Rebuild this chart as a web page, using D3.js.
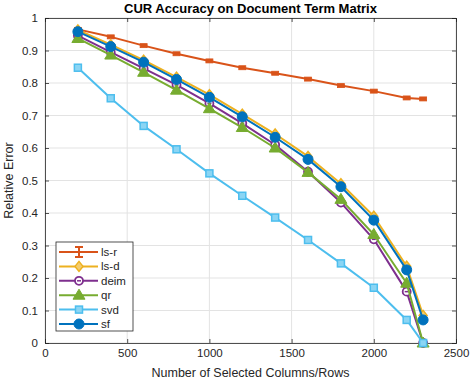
<!DOCTYPE html>
<html><head><meta charset="utf-8">
<script src="https://cdn.jsdelivr.net/npm/d3@7"></script>
<style>body{margin:0;background:#fff}svg{display:block;font-family:"Liberation Sans",Arial,sans-serif}</style>
</head><body>
<svg id="c" width="472" height="381"></svg>
<script>
const xs = [200,400,600,800,1000,1200,1400,1600,1800,2000,2200,2300];
const lsr  = [0.965,0.942,0.915,0.890,0.868,0.847,0.830,0.812,0.792,0.775,0.754,0.751];
const lsd  = [0.963,0.918,0.870,0.818,0.764,0.704,0.643,0.574,0.490,0.390,0.236,0.085];
const deim = [0.946,0.895,0.845,0.794,0.737,0.676,0.610,0.527,0.432,0.319,0.158,0.000];
const qr   = [0.937,0.886,0.833,0.778,0.721,0.663,0.600,0.525,0.442,0.334,0.184,0.000];
const svd  = [0.847,0.753,0.668,0.596,0.522,0.453,0.386,0.317,0.245,0.170,0.071,0.000];
const sf   = [0.958,0.912,0.864,0.811,0.756,0.696,0.633,0.565,0.481,0.378,0.225,0.071];
const xTicks = [0,500,1000,1500,2000,2500];
const yTicks = [0,0.1,0.2,0.3,0.4,0.5,0.6,0.7,0.8,0.9,1];
const names = ["ls-r","ls-d","deim","qr","svd","sf"];
const colors = ["#D95319","#EDB120","#7E2F8E","#77AC30","#4DBEEE","#0072BD"];
const markers = ["err","diamond","circleOpen","triangle","square","circle"];
const seriesVals = [lsr,lsd,deim,qr,svd,sf];

const svg = d3.select("#c");
const L=45, R=456, T=18, B=343;
const x = d3.scaleLinear().domain([0,2500]).range([L,R]);
const y = d3.scaleLinear().domain([0,1]).range([B,T]);

// grid
const g = svg.append("g");
g.selectAll(".gx").data(xTicks).enter().append("line")
  .attr("x1",d=>x(d)).attr("x2",d=>x(d)).attr("y1",T).attr("y2",B)
  .attr("stroke","#e3e3e3").attr("stroke-width",1);
g.selectAll(".gy").data(yTicks).enter().append("line")
  .attr("y1",d=>y(d)).attr("y2",d=>y(d)).attr("x1",L).attr("x2",R)
  .attr("stroke","#e3e3e3").attr("stroke-width",1);

// axes
const ax = [
  svg.append("g").attr("transform",`translate(0,${B})`).call(d3.axisBottom(x).tickValues(xTicks).tickSize(-4).tickPadding(6).tickFormat(d=>d)),
  svg.append("g").attr("transform",`translate(0,${T})`).call(d3.axisTop(x).tickValues(xTicks).tickSize(-4).tickFormat("")),
  svg.append("g").attr("transform",`translate(${L},0)`).call(d3.axisLeft(y).tickValues(yTicks).tickSize(-4).tickPadding(7).tickFormat(d=>String(+d.toFixed(1)))),
  svg.append("g").attr("transform",`translate(${R},0)`).call(d3.axisRight(y).tickValues(yTicks).tickSize(-4).tickFormat(""))
];
ax.forEach(a=>{
  a.select(".domain").attr("stroke","#262626").attr("stroke-width",0.8);
  a.selectAll(".tick line").attr("stroke","#262626").attr("stroke-width",0.8);
  a.selectAll(".tick text").attr("fill","#262626").attr("font-size",11.5).attr("font-family","Liberation Sans, Arial, sans-serif");
});

function lighten(c){ return d3.interpolateRgb(c,"#fff")(0.35); }

function drawMarker(sel, type, color, px, py){
  if(type==="err"){
    sel.append("rect").attr("x",px-3.5).attr("y",py-2).attr("width",7).attr("height",4)
      .attr("fill",color).attr("stroke",color).attr("stroke-width",0.8);
  } else if(type==="diamond"){
    sel.append("path").attr("d",`M${px},${py-5}L${px+4},${py}L${px},${py+5}L${px-4},${py}Z`)
      .attr("fill",lighten(color)).attr("stroke",color).attr("stroke-width",1.5);
  } else if(type==="circleOpen"){
    sel.append("circle").attr("cx",px).attr("cy",py).attr("r",4).attr("fill","#fff").attr("stroke",color).attr("stroke-width",1.8);
    sel.append("line").attr("x1",px-2).attr("x2",px+2).attr("y1",py).attr("y2",py).attr("stroke",color).attr("stroke-width",1.5);
  } else if(type==="triangle"){
    sel.append("path").attr("d",`M${px},${py-6}L${px+6},${py+4}L${px-6},${py+4}Z`)
      .attr("fill",color).attr("stroke",color).attr("stroke-width",1);
  } else if(type==="square"){
    sel.append("rect").attr("x",px-3.5).attr("y",py-3.5).attr("width",7).attr("height",7)
      .attr("fill",lighten(color)).attr("stroke",color).attr("stroke-width",1.5);
  } else if(type==="circle"){
    sel.append("circle").attr("cx",px).attr("cy",py).attr("r",5).attr("fill",color).attr("stroke",color);
  }
}

const line = d3.line().x((d,i)=>x(xs[i])).y(d=>y(d));
const plot = svg.append("g");
seriesVals.forEach((vals,k)=>{
  const sg = plot.append("g");
  sg.append("path").datum(vals).attr("d",line).attr("fill","none")
    .attr("stroke",colors[k]).attr("stroke-width",2).attr("stroke-linejoin","round");
  vals.forEach((v,i)=>drawMarker(sg, markers[k], colors[k], x(xs[i]), y(v)));
});

// title & labels
svg.append("text").attr("x",(L+R)/2).attr("y",13).attr("text-anchor","middle")
  .attr("font-size",13).attr("font-weight","bold").attr("fill","#000").text("CUR Accuracy on Document Term Matrix");
svg.append("text").attr("x",(L+R)/2).attr("y",377).attr("text-anchor","middle")
  .attr("font-size",12.5).attr("fill","#262626").text("Number of Selected Columns/Rows");
svg.append("text").attr("transform",`translate(13,${(T+B)/2}) rotate(-90)`).attr("text-anchor","middle")
  .attr("font-size",12.5).attr("fill","#262626").text("Relative Error");

// legend
const lg = svg.append("g");
lg.append("rect").attr("x",56).attr("y",242).attr("width",77).attr("height",89)
  .attr("fill","#fff").attr("stroke","#262626").attr("stroke-width",0.8);
names.forEach((n,k)=>{
  const ly = 252 + k*14.4;
  lg.append("line").attr("x1",59).attr("x2",98).attr("y1",ly).attr("y2",ly).attr("stroke",colors[k]).attr("stroke-width",2);
  if(markers[k]==="err"){
    lg.append("line").attr("x1",75).attr("x2",83).attr("y1",ly-5).attr("y2",ly-5).attr("stroke",colors[k]).attr("stroke-width",2);
    lg.append("line").attr("x1",75).attr("x2",83).attr("y1",ly+5).attr("y2",ly+5).attr("stroke",colors[k]).attr("stroke-width",2);
    lg.append("line").attr("x1",79).attr("x2",79).attr("y1",ly-5).attr("y2",ly+5).attr("stroke",colors[k]).attr("stroke-width",2);
  } else drawMarker(lg, markers[k], colors[k], 79, ly);
  lg.append("text").attr("x",101).attr("y",ly+4).attr("font-size",11.5).attr("fill","#262626").text(n);
});
</script>
</body></html>
